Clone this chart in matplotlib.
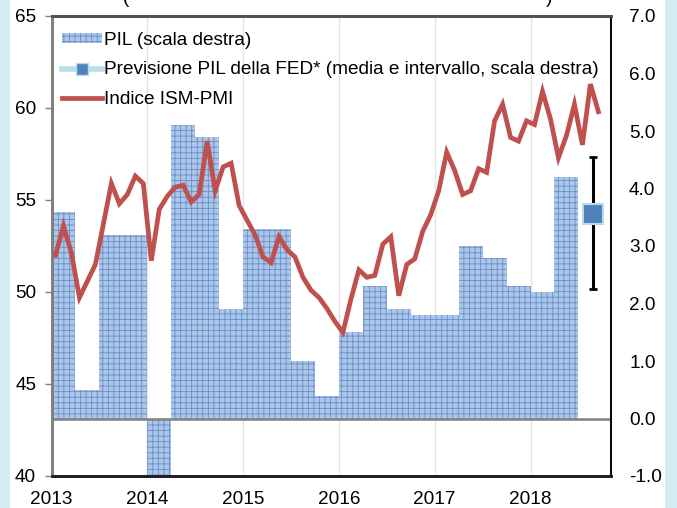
import matplotlib.pyplot as plt
import matplotlib.patches as mpatches
from matplotlib.lines import Line2D
import numpy as np

plt.rcParams['font.family'] = ['Liberation Sans', 'DejaVu Sans']
plt.rcParams['hatch.linewidth'] = 0.6

# PIL USA, variazione trimestrale annualizzata (scala destra), 2013Q1 - 2018Q2
gdp = [3.6, 0.5, 3.2, 3.2,
       -1.1, 5.1, 4.9, 1.9,
       3.3, 3.3, 1.0, 0.4,
       1.5, 2.3, 1.9, 1.8,
       1.8, 3.0, 2.8, 2.3,
       2.2, 4.2]

# Indice ISM-PMI mensile, gen 2013 - set 2018 (scala sinistra)
pmi = [52.0, 53.6, 52.1, 49.7, 50.6, 51.5, 53.7, 55.9, 54.8, 55.3, 56.3, 55.9,
       51.7, 54.5, 55.2, 55.7, 55.8, 54.9, 55.3, 58.2, 55.5, 56.8, 57.0, 54.7,
       53.9, 53.1, 51.9, 51.6, 53.0, 52.3, 51.9, 50.8, 50.1, 49.7, 49.1, 48.4,
       47.8, 49.6, 51.2, 50.8, 50.9, 52.6, 53.0, 49.8, 51.5, 51.8, 53.3, 54.2,
       55.5, 57.6, 56.6, 55.3, 55.5, 56.7, 56.5, 59.3, 60.2, 58.4, 58.2, 59.3,
       59.1, 60.9, 59.4, 57.3, 58.5, 60.2, 58.0, 61.3, 59.8]

# Previsione FED: media e intervallo
fed_x = 2018.65
fed_mean = 3.55
fed_low = 2.25
fed_high = 4.55

years = [2013, 2014, 2015, 2016, 2017, 2018]

red = '#c0504d'
bar_face = '#adc5e6'
hatch_col = '#6590cc'
fed_blue = '#4f81bd'
fed_light = '#b7dde8'
fs = 13.7

fig = plt.figure(figsize=(6.77, 5.08), dpi=100, facecolor='#d2ecf2')
fig.patches.append(mpatches.Rectangle((10 / 677, 0), 655 / 677, 1, transform=fig.transFigure,
                                      facecolor='white', edgecolor='none', zorder=-10))

ax = fig.add_axes([51.5 / 677, 1 - 476 / 508, (611 - 51.5) / 677, 460 / 508])
ax2 = ax.twinx()
ax2.set_zorder(ax.get_zorder() - 1)
ax.patch.set_visible(False)
ax2.patch.set_facecolor('white')

# barre PIL
bar_x = 2013 + 0.25 * np.arange(len(gdp))
ax2.bar(bar_x, gdp, width=0.25, align='edge', color=bar_face, edgecolor=hatch_col,
        hatch='+++', linewidth=0, zorder=2)
ax2.axhline(0, color='#808080', lw=1.8, zorder=3)

# previsione FED
ax2.errorbar([fed_x], [fed_mean], yerr=[[fed_mean - fed_low], [fed_high - fed_mean]],
             fmt='none', ecolor='black', elinewidth=2.2, capsize=3, capthick=2, zorder=4)
ax2.plot([fed_x], [fed_mean], marker='s', markersize=14, markerfacecolor=fed_blue,
         markeredgecolor=fed_light, markeredgewidth=1.5, linestyle='none', zorder=5)

ax2.set_ylim(-1, 7)
ax2.set_yticks(np.arange(-1, 8, 1))
ax2.set_yticklabels(['%.1f' % v for v in np.arange(-1, 8, 1)])
ax2.tick_params(axis='y', length=0, pad=13, labelsize=fs)

for y in years[1:]:
    ax2.axvline(y, color='#e4e4e4', lw=1, zorder=1)

# linea ISM-PMI
pmi_x = 2013 + (np.arange(len(pmi)) + 0.5) / 12
ax.plot(pmi_x, pmi, color=red, lw=3.4, solid_joinstyle='miter', zorder=5)

ax.set_ylim(40, 65)
ax.set_yticks([40, 45, 50, 55, 60, 65])
ax.set_xlim(2013, 2018.84)
ax.set_xticks(years)
ax.tick_params(axis='y', length=5, width=1, color='#808080', pad=6, labelsize=fs)
ax.tick_params(axis='x', length=0, pad=11, labelsize=fs)

for a in (ax, ax2):
    a.spines['left'].set_color('#808080')
    a.spines['left'].set_linewidth(2)
    a.spines['bottom'].set_color('#202020')
    a.spines['bottom'].set_linewidth(2)
    a.spines['top'].set_color('#505050')
    a.spines['top'].set_linewidth(2)
    a.spines['right'].set_color('black')
    a.spines['right'].set_linewidth(1.2)

handles = [
    mpatches.Patch(facecolor=bar_face, edgecolor=hatch_col, hatch='+++', linewidth=0),
    Line2D([], [], color=fed_light, lw=4, marker='s', markersize=9,
           markerfacecolor=fed_blue, markeredgecolor=fed_light),
    Line2D([], [], color=red, lw=3.4),
]
labels = ['PIL (scala destra)',
          'Previsione PIL della FED* (media e intervallo, scala destra)',
          'Indice ISM-PMI']
ax.legend(handles, labels, loc='upper left', bbox_to_anchor=(0.019, 0.965), frameon=False,
          fontsize=fs, handlelength=2.1, handleheight=0.45, handletextpad=0.1,
          labelspacing=0.65, borderaxespad=0, borderpad=0)

# titolo tagliato in alto
fig.text(123 / 677, 1 - 3 / 508, '(', fontsize=fs, va='baseline')
fig.text(546 / 677, 1 - 3 / 508, ')', fontsize=fs, va='baseline')

fig.savefig('out.png', dpi=100, facecolor=fig.get_facecolor())
